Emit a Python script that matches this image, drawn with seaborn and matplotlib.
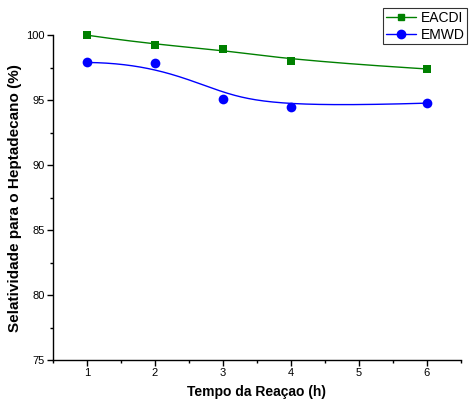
"""
Selectivity vs reaction time, EACDI and EMWD catalysts.
"""
import numpy as np
import pandas as pd
import matplotlib
matplotlib.use('Agg')
import matplotlib.pyplot as plt
import seaborn as sns
from matplotlib.ticker import MultipleLocator

tempo = [1, 2, 3, 4, 6]
eacdi = [100.0, 99.25, 98.95, 98.05, 97.4]
emwd = [97.9, 97.85, 95.12, 94.46, 94.77]

sns.set_style('white')
plt.rcParams['font.family'] = ['Liberation Sans', 'DejaVu Sans']
plt.rcParams['text.color'] = 'black'
plt.rcParams['axes.labelcolor'] = 'black'
plt.rcParams['xtick.color'] = 'black'
plt.rcParams['ytick.color'] = 'black'


def bspline(x, y, n=200):
    """Clamped cubic B-spline through the data as control points (Origin style)."""
    pts = np.column_stack([x, y]).astype(float)
    k = 3
    m = len(pts)
    knots = np.concatenate([np.zeros(k), np.linspace(0, 1, m - k + 1), np.ones(k)])
    ts = np.linspace(0, 1 - 1e-9, n)
    out = []
    for t in ts:
        i = np.searchsorted(knots, t, side='right') - 1
        i = min(max(i, k), m - 1)
        d = [pts[j + i - k].copy() for j in range(k + 1)]
        for r in range(1, k + 1):
            for j in range(k, r - 1, -1):
                a = (t - knots[j + i - k]) / (knots[j + 1 + i - r] - knots[j + i - k])
                d[j] = (1 - a) * d[j - 1] + a * d[j]
        out.append(d[k])
    out.append(pts[-1])
    out = np.array(out)
    return out[:, 0], out[:, 1]


fig = plt.figure(figsize=(4.70, 4.03), dpi=100)
ax = fig.add_axes([0.1128, 0.1067, 0.868, 0.806])

series = [('EACDI', eacdi, '#008000', 's', 6), ('EMWD', emwd, '#0000FF', 'o', 7)]
handles = []
for name, vals, col, mk, ms in series:
    df = pd.DataFrame({'t': tempo, 'v': vals})
    sx, sy = bspline(df['t'].values, df['v'].values)
    sns.lineplot(x=sx, y=sy, ax=ax, color=col, lw=1.0, sort=False, estimator=None,
                 legend=False)
    sns.scatterplot(data=df, x='t', y='v', ax=ax, color=col, marker=mk, s=ms ** 2,
                    edgecolor=col, linewidth=0, clip_on=False, zorder=3, legend=False)
    h, = ax.plot([], [], color=col, lw=1.0, marker=mk, ms=ms - 1, label=name)
    handles.append(h)

if ax.get_legend() is not None:
    ax.get_legend().remove()

ax.set_xlim(0.5, 6.5)
ax.set_ylim(75, 100)
ax.xaxis.set_major_locator(MultipleLocator(1))
ax.xaxis.set_minor_locator(MultipleLocator(0.5))
ax.yaxis.set_major_locator(MultipleLocator(5))
ax.yaxis.set_minor_locator(MultipleLocator(2.5))
ax.tick_params(which='major', direction='out', length=4, width=1, labelsize=8,
               bottom=True, left=True, pad=2)
ax.tick_params(which='minor', direction='out', length=2.5, width=1, bottom=True, left=True)

for s in ['top', 'right']:
    ax.spines[s].set_visible(False)
for s in ['left', 'bottom']:
    ax.spines[s].set_color('black')
    ax.spines[s].set_linewidth(1)

ax.set_xlabel('Tempo da Reaçao (h)', fontsize=10, fontweight='bold', labelpad=5)
ax.set_ylabel('Selatividade para o Heptadecano (%)', fontsize=11, fontweight='bold', labelpad=3)

leg = fig.legend(handles=handles, loc='upper left', bbox_to_anchor=(383 / 470, 1 - 8 / 403),
                 fontsize=10, frameon=True, fancybox=False, handlelength=2.2,
                 borderpad=0.2, labelspacing=0.2, handletextpad=0.3, borderaxespad=0)
leg.get_frame().set_edgecolor('black')
leg.get_frame().set_linewidth(0.8)

fig.savefig('out.png', dpi=100)
